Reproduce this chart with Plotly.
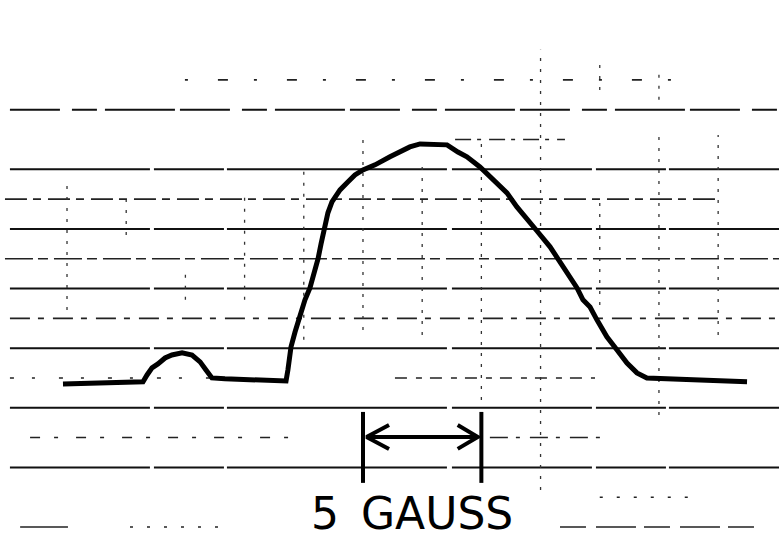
import plotly.graph_objects as go

# Absorption trace: magnetic field (gauss) vs. signal (chart divisions)
field_g = [-0.17, 3.21, 3.38, 3.59, 3.84, 4.14, 4.43, 4.86, 5.28, 5.62, 5.87, 6.12,
           6.67, 8.57, 9.25, 9.33, 9.38, 9.46, 9.63, 9.80, 10.05, 10.26, 10.47, 10.60,
           10.73, 10.85, 11.02, 11.19, 11.53, 11.87, 12.16, 12.50, 13.01, 13.64, 14.06,
           14.48, 14.91, 16.05, 16.51, 16.89, 17.44, 17.86, 18.29, 18.58, 19.00, 19.43,
           19.85, 20.40, 20.95, 21.28, 21.54, 21.79, 22.09, 22.38, 22.80, 23.23, 23.65,
           24.07, 24.49, 26.73, 28.72]
signal = [4.80, 4.87, 5.10, 5.34, 5.47, 5.67, 5.77, 5.84, 5.77, 5.54, 5.27, 5.00,
          4.97, 4.93, 4.90, 5.27, 5.67, 6.04, 6.54, 7.01, 7.62, 8.02, 8.56, 8.99,
          9.50, 10.00, 10.54, 10.91, 11.31, 11.58, 11.81, 11.98, 12.15, 12.42, 12.58,
          12.75, 12.85, 12.82, 12.58, 12.42, 12.08, 11.74, 11.44, 11.21, 10.74, 10.30,
          9.93, 9.40, 8.73, 8.32, 8.02, 7.62, 7.38, 6.95, 6.38, 5.94, 5.50,
          5.17, 5.00, 4.93, 4.87]

# Scale bar
scale_start_g = 12.5
scale_width_g = 5.0
scale_label = "5\u2002GAUSS"

# Chart-paper rulings
major_rows = [14, 12, 10, 8, 6, 4, 2]
minor_rows = [  # (level, x from, x to, dash)
    (15, 4.98, 26.73, "3px,30px,10px,26px"),
    (13, 16.39, 21.03, "16px,6px,4px,8px"),
    (11, -2.62, 27.58, "22px,6px,8px,7px"),
    (9, -2.62, 30.07, "28px,5px,10px,6px"),
    (7, -2.41, 30.07, "20px,8px,6px,9px"),
    (5, -2.41, 6.25, "4px,18px,3px,24px"),
    (5, 13.85, 22.30, "12px,9px,6px,8px"),
    (3, -1.56, 9.42, "10px,14px,4px,18px"),
    (3, 17.86, 22.72, "18px,8px,4px,10px"),
    (1, 22.5, 26.3, "3px,14px"),
    (0, -1.98, 0.04, "solid"),
    (0, 2.66, 6.67, "3px,14px"),
    (0, 20.82, 29.27, "26px,10px,40px,8px"),
]
column_segments = [  # (field, y from, y to)
    (0.0, 7.28, 11.48), (2.5, 9.80, 10.97), (5.0, 7.62, 8.62), (7.5, 7.62, 11.31),
    (10.0, 6.28, 12.15), (12.5, 6.61, 12.99), (15.0, 6.44, 12.15), (17.5, 4.26, 12.99),
    (20.0, 1.24, 16.01), (22.5, 7.45, 11.14), (22.5, 14.66, 15.50), (25.0, 3.76, 13.15),
    (25.0, 14.33, 15.17), (27.5, 6.44, 13.15),
]

X_RANGE = [-2.83, 30.07]
Y_RANGE = [-0.47, 17.68]

fig = go.Figure()


def seg(x, y, width, dash="solid", color="black"):
    fig.add_trace(go.Scatter(x=x, y=y, mode="lines", hoverinfo="skip",
                             line=dict(color=color, width=width, dash=dash)))


for i, lvl in enumerate(major_rows):
    dash = "50px,12px,25px,8px,70px,5px" if i == 0 else "140px,4px,70px,3px,220px,5px"
    seg([-2.41, 30.07], [lvl, lvl], 2.0, dash, "#111")

for lvl, x0, x1, dash in minor_rows:
    seg([x0, x1], [lvl, lvl], 1.6, dash, "#222")

for xv, y0, y1 in column_segments:
    seg([xv, xv], [y0, y1], 1.3, "3px,8px", "#333")

# Signal trace
seg(field_g, signal, 5)

# Scale bar: end ticks, double-headed arrow and label
sx0 = scale_start_g
sx1 = scale_start_g + scale_width_g
bar_lo, bar_hi, arrow_y = 1.48, 3.86, 3.02
seg([sx0, sx0], [bar_lo, bar_hi], 4)
seg([sx1, sx1], [bar_lo, bar_hi], 4)
seg([sx0 + 0.15, sx1 - 0.15], [arrow_y, arrow_y], 4)
seg([sx0 + 1.1, sx0 + 0.15, sx0 + 1.1], [arrow_y + 0.4, arrow_y, arrow_y - 0.4], 4)
seg([sx1 - 1.0, sx1 - 0.15, sx1 - 1.0], [arrow_y + 0.4, arrow_y, arrow_y - 0.4], 4)

fig.add_annotation(x=(sx0 + sx1) / 2 - 0.45, y=Y_RANGE[0], text=scale_label,
                   showarrow=False, xanchor="center", yanchor="bottom",
                   font=dict(family="DejaVu Sans", size=44, color="black"))

fig.update_layout(
    width=779, height=541, margin=dict(l=0, r=0, t=0, b=0),
    paper_bgcolor="white", plot_bgcolor="white", showlegend=False,
    xaxis=dict(range=X_RANGE, visible=False, fixedrange=True),
    yaxis=dict(range=Y_RANGE, visible=False, fixedrange=True),
)

fig.write_html("out.html")
